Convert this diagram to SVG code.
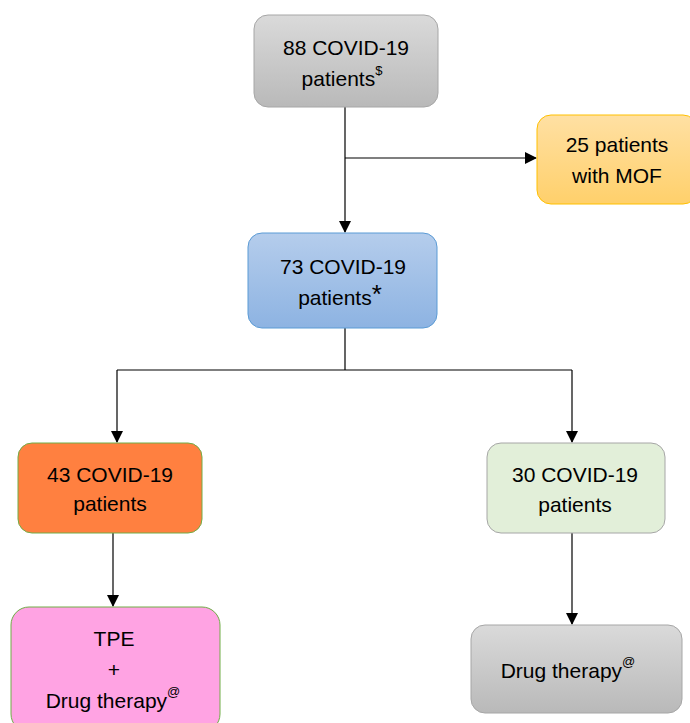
<svg xmlns="http://www.w3.org/2000/svg" width="690" height="723" viewBox="0 0 690 723">
<style>
text{font-family:"Liberation Sans","DejaVu Sans",sans-serif;font-size:21px;fill:#000;text-anchor:middle}
.sup{font-size:13px}
.c{fill:none;stroke:#000;stroke-width:1.2}
</style>
<defs>
<linearGradient id="gGray" x1="0" y1="0" x2="0" y2="1"><stop offset="0" stop-color="#dadada"/><stop offset="1" stop-color="#b9b9b9"/></linearGradient>
<linearGradient id="gYel" x1="0" y1="0" x2="0" y2="1"><stop offset="0" stop-color="#ffe0a3"/><stop offset="1" stop-color="#ffd06b"/></linearGradient>
<linearGradient id="gBlue" x1="0" y1="0" x2="0" y2="1"><stop offset="0" stop-color="#b5cdec"/><stop offset="1" stop-color="#8db3e2"/></linearGradient>
<marker id="ah" markerWidth="12" markerHeight="12" refX="11" refY="6" orient="auto" markerUnits="userSpaceOnUse"><path d="M0,0 L12,6 L0,12 Z" fill="#000"/></marker>
</defs>
<g id="connectors">
<path class="c" d="M345,107 V232" marker-end="url(#ah)"/>
<path class="c" d="M345,158 H536" marker-end="url(#ah)"/>
<path class="c" d="M345,328 V370 M117,370 H572"/>
<path class="c" d="M117,370 V442" marker-end="url(#ah)"/>
<path class="c" d="M572,370 V442" marker-end="url(#ah)"/>
<path class="c" d="M113,533 V606" marker-end="url(#ah)"/>
<path class="c" d="M572,533 V624" marker-end="url(#ah)"/>
</g>
<g id="n88">
<rect x="254" y="15" width="184" height="92" rx="14" fill="url(#gGray)" stroke="#a6a6a6"/>
<text x="346" y="55">88 COVID-19</text>
<text x="342" y="86">patients<tspan class="sup" dy="-11">$</tspan></text>
</g>
<g id="nMOF">
<rect x="537" y="115" width="160" height="89" rx="14" fill="url(#gYel)" stroke="#ffc000"/>
<text x="617" y="152">25 patients</text>
<text x="617" y="183">with MOF</text>
</g>
<g id="n73">
<rect x="248" y="233" width="189" height="95" rx="14" fill="url(#gBlue)" stroke="#5b9bd5"/>
<text x="343" y="274">73 COVID-19</text>
<text x="340" y="305">patients<tspan dy="-2" font-size="26">*</tspan></text>
</g>
<g id="n43">
<rect x="18" y="443" width="184" height="90" rx="14" fill="#ff8040" stroke="#70ad47"/>
<text x="110" y="482">43 COVID-19</text>
<text x="110" y="511">patients</text>
</g>
<g id="n30">
<rect x="487" y="443" width="178" height="90" rx="14" fill="#e2efd9" stroke="#a6a6a6"/>
<text x="575" y="482">30 COVID-19</text>
<text x="575" y="512">patients</text>
</g>
<g id="nTPE">
<rect x="11" y="607" width="209" height="125" rx="18" fill="#ffa3e3" stroke="#70ad47"/>
<text x="114" y="646">TPE</text>
<text x="114" y="677">+</text>
<text x="113" y="708">Drug therapy<tspan class="sup" dy="-12">@</tspan></text>
</g>
<g id="nDrug">
<rect x="471" y="625" width="211" height="88" rx="14" fill="url(#gGray)" stroke="#a6a6a6"/>
<text x="568" y="678">Drug therapy<tspan class="sup" dy="-12">@</tspan></text>
</g>
</svg>
